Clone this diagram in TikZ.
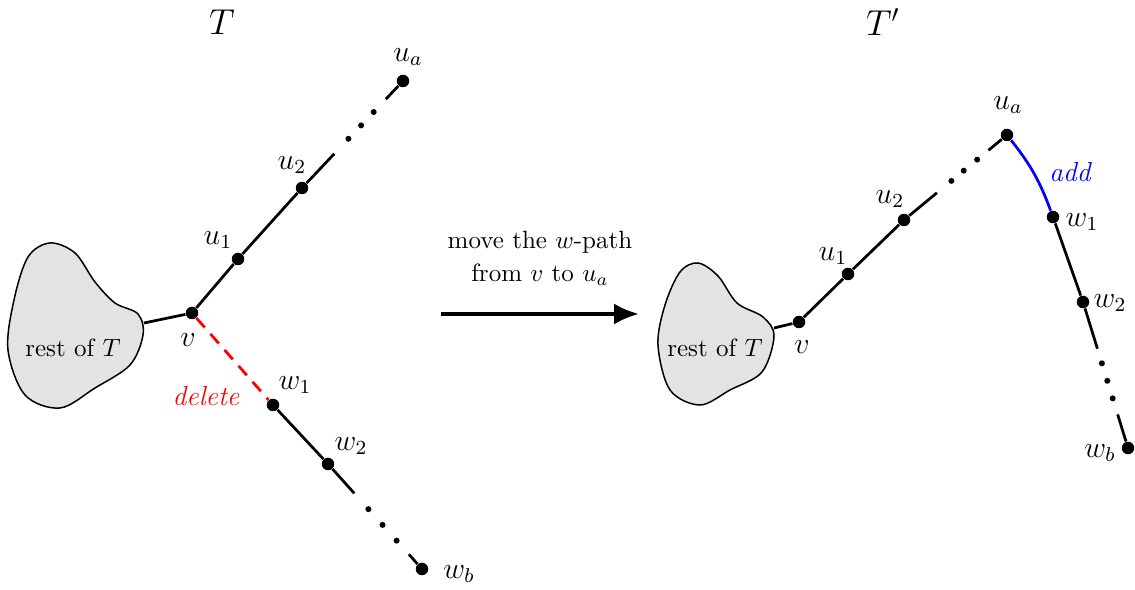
\documentclass[tikz,border=0pt]{standalone}
\usetikzlibrary{calc,arrows.meta}
\begin{document}
\begin{tikzpicture}[x=0.4pt,y=-0.4pt,
  vtx/.style={circle,fill=black,inner sep=0pt,minimum size=5pt},
  sdot/.style={circle,fill=black,inner sep=0pt,minimum size=2.4pt},
  edge/.style={line width=1.1pt},
  blob/.style={draw=black,fill=black!11,line width=0.6pt},
  lbl/.style={inner sep=0pt,font=\large},
  note/.style={inner sep=0pt,font=\fontsize{11}{13}\selectfont\itshape}]
\path[use as bounding box] (0,0) rectangle (1135,590);

% ---------- titles ----------
\node[inner sep=0pt] (tL) at (222,22) {\Large $T$};
\node[inner sep=0pt] (tR) at (883,22) {\Large $T'$};

% ---------- left tree ----------
\draw[blob] plot[smooth cycle,tension=0.55] coordinates {
  (28,257) (50,243) (75,253) (95,282) (115,303) (138,314) (143,335)
  (130,365) (95,388) (60,408) (25,395) (8,350) (14,300)};
\node[inner sep=0pt] (restL) at (73,348) {rest of $T$};
\coordinate (attL) at (144,323);

\node[vtx] (vL)  at (192,313) {};
\node[vtx] (u1L) at (238,259) {};
\node[vtx] (u2L) at (302,188) {};
\node[vtx] (uaL) at (403,81) {};
\node[vtx] (w1L) at (273,405) {};
\node[vtx] (w2L) at (328,464) {};
\node[vtx] (wbL) at (422,569) {};

\draw[edge] (attL) -- (vL);
\draw[edge] (vL) -- (u1L) -- (u2L) -- ($(u2L)!0.32!(uaL)$);
\draw[edge] ($(u2L)!0.83!(uaL)$) -- (uaL);
\foreach \t/\n in {0.46/a,0.585/b,0.71/c}
  \node[sdot] (dU\n L) at ($(u2L)!\t!(uaL)$) {};
\draw[edge,red,dash pattern=on 5pt off 3.5pt] (vL) -- (w1L);
\draw[edge] (w1L) -- (w2L) -- ($(w2L)!0.28!(wbL)$);
\draw[edge] ($(w2L)!0.86!(wbL)$) -- (wbL);
\foreach \t/\n in {0.43/a,0.58/b,0.73/c}
  \node[sdot] (dW\n L) at ($(w2L)!\t!(wbL)$) {};

\node[lbl] (luaL) at (408,57) {$u_a$};
\node[lbl] (lu2L) at (292,165) {$u_2$};
\node[lbl] (lu1L) at (218,240) {$u_1$};
\node[lbl] (lvL)  at (188,340) {$v$};
\node[lbl] (lw1L) at (295,385) {$w_1$};
\node[lbl] (lw2L) at (351,446) {$w_2$};
\node[lbl] (lwbL) at (459,574) {$w_b$};
\node[note,red] (del) at (206,396) {delete};

% ---------- middle arrow ----------
\node[inner sep=0pt,align=center] (mv) at (540,258) {move the $w$-path\\[1.2pt] from $v$ to $u_a$};
\coordinate (aS) at (441,314);
\coordinate (aE) at (639,314);
\draw[line width=1.6pt,-{Latex[length=10pt,width=8.5pt]}] (aS) -- (aE);

% ---------- right tree ----------
\draw[blob] plot[smooth cycle,tension=0.55] coordinates {
  (680,272) (698,263) (718,276) (737,303) (763,317) (774,336)
  (762,372) (730,390) (700,405) (670,390) (658,345) (665,305)};
\node[inner sep=0pt] (restR) at (715,348) {rest of $T$};
\coordinate (attR) at (774,328);

\node[vtx] (vR)  at (799,322) {};
\node[vtx] (u1R) at (848,274) {};
\node[vtx] (u2R) at (904,220) {};
\node[vtx] (uaR) at (1007,135) {};
\node[vtx] (w1R) at (1053,217) {};
\node[vtx] (w2R) at (1083,302) {};
\node[vtx] (wbR) at (1128,448) {};

\draw[edge] (attR) -- (vR);
\draw[edge] (vR) -- (u1R) -- (u2R) -- ($(u2R)!0.32!(uaR)$);
\draw[edge] ($(u2R)!0.82!(uaR)$) -- (uaR);
\foreach \t/\n in {0.46/a,0.58/b,0.71/c}
  \node[sdot] (dU\n R) at ($(u2R)!\t!(uaR)$) {};
\draw[edge,blue] (uaR) to[bend left=9] (w1R);
\draw[edge] (w1R) -- (w2R) -- ($(w2R)!0.32!(wbR)$);
\draw[edge] ($(w2R)!0.77!(wbR)$) -- (wbR);
\foreach \t/\n in {0.42/a,0.54/b,0.66/c}
  \node[sdot] (dW\n R) at ($(w2R)!\t!(wbR)$) {};

\node[lbl] (luaR) at (1008,105) {$u_a$};
\node[lbl] (lu2R) at (890,199) {$u_2$};
\node[lbl] (lu1R) at (833,256) {$u_1$};
\node[lbl] (lvR)  at (802,347) {$v$};
\node[lbl] (lw1R) at (1082,222) {$w_1$};
\node[lbl] (lw2R) at (1110,303) {$w_2$};
\node[lbl] (lwbR) at (1100,453) {$w_b$};
\node[note,blue] (addl) at (1070,172) {add};
\end{tikzpicture}
\end{document}
